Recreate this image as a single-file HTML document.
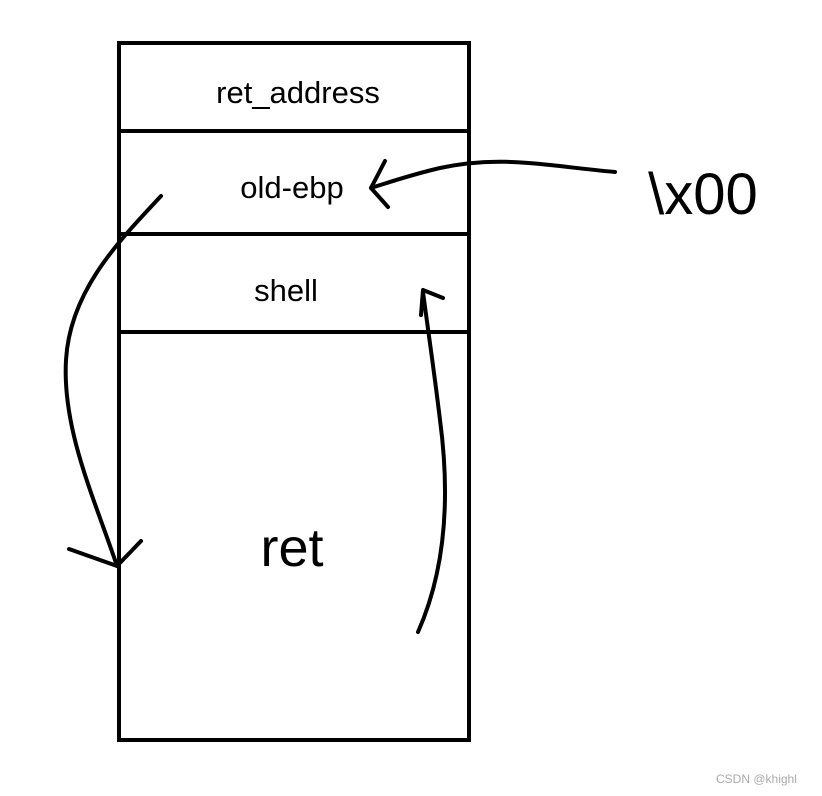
<!DOCTYPE html>
<html><head><meta charset="utf-8"><style>
html,body{margin:0;padding:0;background:#fff;}
svg{display:block;}
text{font-family:"Liberation Sans","DejaVu Sans",sans-serif;fill:#000;}
</style></head><body>
<svg width="822" height="796" viewBox="0 0 822 796" xmlns="http://www.w3.org/2000/svg">
<rect x="119" y="43" width="350" height="697" fill="none" stroke="#000" stroke-width="4"/>
<line x1="119" y1="131" x2="469" y2="131" stroke="#000" stroke-width="4"/>
<line x1="119" y1="234" x2="469" y2="234" stroke="#000" stroke-width="4"/>
<line x1="119" y1="332" x2="469" y2="332" stroke="#000" stroke-width="4"/>
<text x="298" y="103" font-size="31" text-anchor="middle">ret_address</text>
<text x="292" y="198" font-size="31" text-anchor="middle">old-ebp</text>
<text x="286" y="301" font-size="31" text-anchor="middle">shell</text>
<text x="292" y="566" font-size="54" text-anchor="middle">ret</text>
<text x="703" y="214" font-size="58" text-anchor="middle">\x00</text>
<g fill="none" stroke="#000" stroke-width="4" stroke-linecap="round" stroke-linejoin="round">
<path d="M615 172 C540 165 500 155 440 168 C410 175 390 182 371 188"/>
<path d="M385 161 L371 188 L388 207"/>
<path d="M161 196 C120 240 70 290 66 360 C62 430 95 500 117 566"/>
<path d="M69 549 L117 566 L141 541"/>
<path d="M418 632 C450 560 448 480 440 420 C434 370 428 330 423 292"/>
<path d="M423 290 L443 298 M423 290 L421 315"/>
</g>
<text x="716" y="783" font-size="12" fill="#aaa" style="fill:#aaa">CSDN @khighl</text>
</svg>
</body></html>
